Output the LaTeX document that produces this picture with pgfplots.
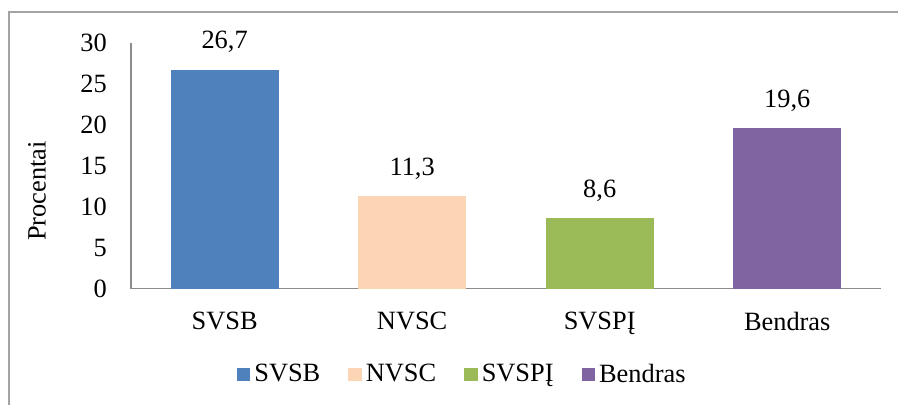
\documentclass[border=0pt]{standalone}
\usepackage{pgfplots}
\pgfplotsset{compat=1.18}
\usepackage{fontspec}
\setmainfont{Liberation Serif}
\definecolor{cblue}{HTML}{4F81BD}
\definecolor{cpeach}{HTML}{FCD5B5}
\definecolor{cgreen}{HTML}{9BBB59}
\definecolor{cpurple}{HTML}{8064A2}
\definecolor{axgray}{HTML}{8C8C8C}
\newcommand{\fs}{\fontsize{13.2}{15.8}\selectfont}
\begin{document}
\begin{tikzpicture}
\begin{axis}[
  name=ax,
  at={(0pt,0pt)}, anchor=south west,
  scale only axis,
  width=375.5pt, height=123pt,
  ybar, bar shift=0pt, bar width=54pt,
  xmin=-0.5, xmax=3.5, ymin=0, ymax=30,
  ytick={0,5,...,30},
  xtick={0,1,2,3},
  xticklabels={SVSB,NVSC,SVSPĮ,Bendras},
  major tick length=0pt,
  axis x line*=bottom, axis y line*=left,
  axis line style={axgray, line width=0.7pt, -},
  /pgf/number format/assume math mode=true,
  tick label style={font=\fs},
  yticklabel style={xshift=-8.5pt},
  xticklabel style={yshift=-8pt},
  ylabel={Procentai},
  ylabel style={at={(axis description cs:0,0.398)}, anchor=center, yshift=47pt, font=\fs},
  nodes near coords,
  nodes near coords style={font=\fs, yshift=5pt, /pgf/number format/.cd, use comma, fixed, fixed zerofill, precision=1, assume math mode=true},
  legend columns=4,
  legend style={draw=none, at={(0.443,-0.35)}, anchor=center, font=\fs,
    /tikz/every even column/.append style={column sep=12pt}},
  legend cell align=left,
  legend image code/.code={\fill[#1,draw=none] (0pt,-3.4pt) rectangle (6.8pt,3.4pt);},
]
\addplot[fill=cblue, draw=none] coordinates {(0,26.7)};
\addplot[fill=cpeach, draw=none] coordinates {(1,11.3)};
\addplot[fill=cgreen, draw=none] coordinates {(2,8.6)};
\addplot[fill=cpurple, draw=none] coordinates {(3,19.6)};
\legend{SVSB,NVSC,SVSPĮ,Bendras}
\end{axis}
\pgfresetboundingbox
\path (-65.5pt,-58pt) rectangle (384pt,144.5pt);
\draw[axgray!80, line width=1pt] (-61pt,-58pt) -- (-61pt,138.5pt) -- (384pt,138.5pt);
\end{tikzpicture}
\end{document}
